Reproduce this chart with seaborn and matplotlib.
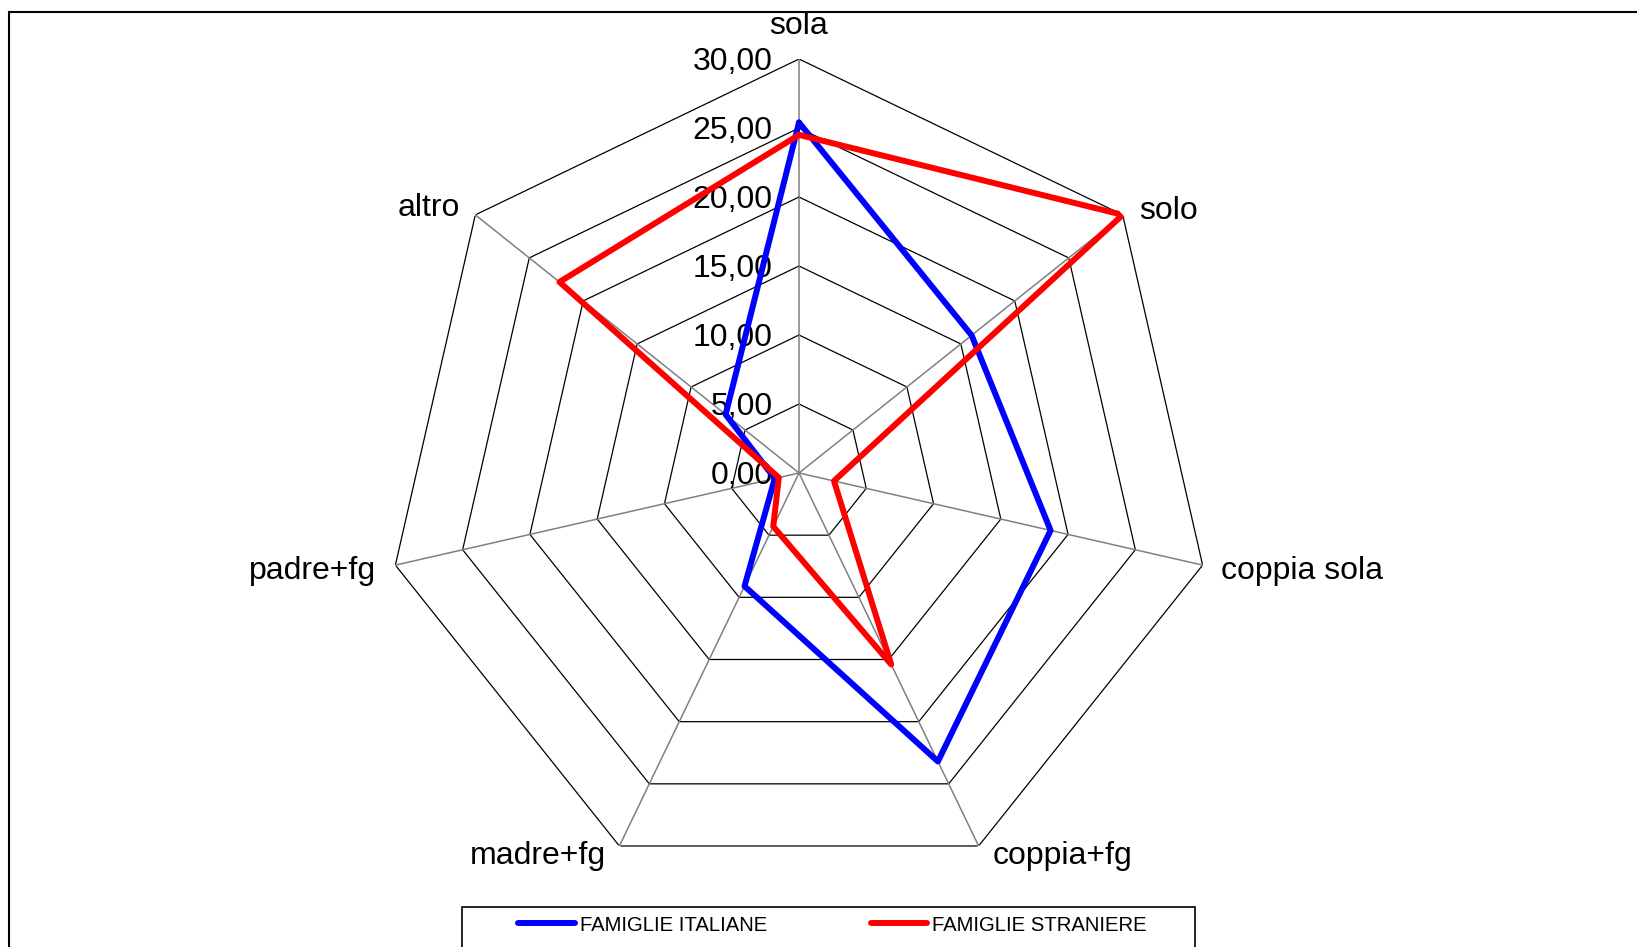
import numpy as np
import matplotlib
matplotlib.use("Agg")
import matplotlib.pyplot as plt
from matplotlib.patches import Rectangle
import seaborn as sns

# data
categories = ["sola", "solo", "coppia sola", "coppia+fg", "madre+fg", "padre+fg", "altro"]
italiane = [25.4, 16.0, 18.7, 23.2, 9.1, 1.8, 6.8]
straniere = [24.5, 30.0, 2.6, 15.4, 4.3, 1.5, 22.2]
levels = [0, 5, 10, 15, 20, 25, 30]
series_names = ["FAMIGLIE ITALIANE", "FAMIGLIE STRANIERE"]

sns.set_style("white")
plt.rcParams["font.family"] = ["Liberation Sans", "DejaVu Sans"]
plt.rcParams["text.color"] = "black"

W, H = 1637, 947
fig = plt.figure(figsize=(W / 100, H / 100), dpi=100)

cx, cy, R = 799, 473, 414
ax = fig.add_axes([(cx - R) / W, (H - cy - R) / H, 2 * R / W, 2 * R / H], projection="polar")
ax.set_theta_offset(np.pi / 2)
ax.set_theta_direction(-1)
ax.set_ylim(0, 30)
ax.grid(False)
ax.spines["polar"].set_visible(False)
ax.set_xticks([])
ax.set_yticks([])
ax.patch.set_alpha(0)

n = len(categories)
theta = np.linspace(0, 2 * np.pi, n, endpoint=False)
theta_c = np.append(theta, 2 * np.pi)

# polygon rings and spokes
for lv in levels[1:]:
    ax.plot(theta_c, [lv] * (n + 1), color="black", lw=0.9, zorder=1)
for t in theta:
    ax.plot([t, t], [0, 30], color="#808080", lw=1.1, zorder=1)

# radial tick labels
for lv in levels:
    ax.annotate(f"{lv:.2f}".replace(".", ","), xy=(0, lv), xytext=(-19, -2),
                textcoords="offset points", ha="right", va="center", fontsize=23, zorder=2)

# category labels
offsets = [((0, 24), "center"), ((12, 3), "left"), ((13, -4), "left"), ((10, -7), "left"),
           ((-10, -7), "right"), ((-14, -4), "right"), ((-11, 5), "right")]
for t, name, (off, ha) in zip(theta, categories, offsets):
    ax.annotate(name, xy=(t, 30), xytext=off, textcoords="offset points",
                ha=ha, va="center", fontsize=23)

colors = ["#0000ff", "#ff0000"]
for vals, name, col in zip([italiane, straniere], series_names, colors):
    sns.lineplot(x=theta_c, y=np.append(vals, vals[0]), sort=False, estimator=None, ax=ax,
                 color=col, lw=4.3, label=name, legend=False, zorder=3)
ax.set_xlabel("")
ax.set_ylabel("")

handles = [plt.Line2D([], [], color=c, lw=4.3, solid_capstyle="round") for c in colors]
fig.legend(handles, series_names, loc="center left", bbox_to_anchor=(518 / W, 1 - 925 / H),
           ncol=2, frameon=False, fontsize=14.6, handlelength=2.8, handletextpad=0.25,
           columnspacing=5.1, borderpad=0, borderaxespad=0)

# legend box and outer border
fig.patches.append(Rectangle((462 / W, -0.05), (1195 - 462) / W, 0.05 + 1 - 907 / H,
                             transform=fig.transFigure, fill=False, ec="black", lw=1.2))
fig.patches.append(Rectangle((9 / W, -0.05), 1.1, 0.05 + 1 - 12 / H,
                             transform=fig.transFigure, fill=False, ec="black", lw=1.5))

fig.savefig("out.png", dpi=100)
